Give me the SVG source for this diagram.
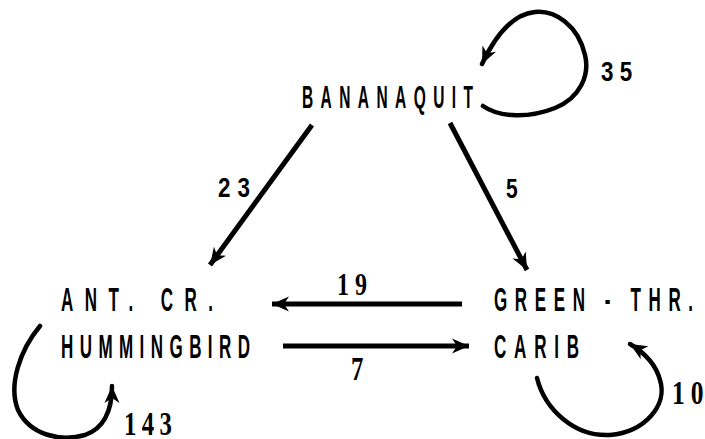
<svg xmlns="http://www.w3.org/2000/svg" width="705" height="439" viewBox="0 0 705 439">
<defs>
<marker id="ah" markerUnits="userSpaceOnUse" markerWidth="22" markerHeight="18" viewBox="-18 -9 22 18" refX="0" refY="0" orient="auto">
<path d="M0,0 L-17,-7.5 L-12,0 L-17,7.5 Z" fill="#000"/>
</marker>
<style>
.lbl{font-family:"Liberation Sans","DejaVu Sans",sans-serif;font-weight:bold;fill:#000}
.num{font-family:"Liberation Sans","DejaVu Sans",sans-serif;font-weight:bold;fill:#000}
.numr{font-family:"Liberation Serif","DejaVu Serif",serif;font-weight:bold;fill:#000}
.e{fill:none;stroke:#000;stroke-width:5;stroke-linecap:butt;marker-end:url(#ah)}
.l{fill:none;stroke:#000;stroke-width:4.5;stroke-linecap:round;marker-end:url(#ah)}
</style>
</defs>
<rect width="705" height="439" fill="#fff"/>
<g id="bananaquit">
<text class="lbl" font-size="31" transform="translate(302,108) scale(0.5,1)" textLength="342" lengthAdjust="spacing">BANANAQUIT</text>
</g>
<g id="hummingbird">
<text class="lbl" font-size="34" transform="translate(61,311) scale(0.5,1)" textLength="304" lengthAdjust="spacing">ANT. CR.</text>
<text class="lbl" font-size="34" transform="translate(61,358) scale(0.5,1)" textLength="378" lengthAdjust="spacing">HUMMINGBIRD</text>
</g>
<g id="carib">
<text class="lbl" font-size="34" transform="translate(494,311) scale(0.5,1)" textLength="398" lengthAdjust="spacing">GREEN - THR.</text>
<text class="lbl" font-size="34" transform="translate(494,358) scale(0.5,1)" textLength="170" lengthAdjust="spacing">CARIB</text>
</g>
<g id="connectors">
<path class="e" d="M312,125 L210,265"/>
<path class="e" d="M450,123 L527,270"/>
<path class="e" d="M462,304 L272,304"/>
<path class="e" d="M283,346 L469,346"/>
<path class="l" d="M483,106 C500,118 530,118 555,108 C580,98 590,75 585,55 C578,25 555,10 535,12 C515,14 498,30 482,64"/>
<path class="l" d="M40,326 C20,350 8,385 18,410 C30,435 60,442 85,435 C105,428 112,410 112,386"/>
<path class="l" d="M537,378 C545,410 575,437 610,435 C645,432 668,405 660,380 C656,365 645,353 630,344"/>
</g>
<g id="labels">
<text class="num" font-size="28" transform="translate(601,81) scale(0.8,1)" textLength="39" lengthAdjust="spacing">35</text>
<text class="num" font-size="28" transform="translate(218,197) scale(0.8,1)" textLength="40" lengthAdjust="spacing">23</text>
<text class="num" font-size="28" transform="translate(506,198) scale(0.75,1)">5</text>
<text class="numr" font-size="32" transform="translate(337,295) scale(0.75,1)" textLength="40" lengthAdjust="spacing">19</text>
<text class="numr" font-size="33" transform="translate(351,380) scale(0.75,1)">7</text>
<text class="numr" font-size="33" transform="translate(124,435) scale(0.75,1)" textLength="64" lengthAdjust="spacing">143</text>
<text class="numr" font-size="34" transform="translate(672,404) scale(0.75,1)" textLength="42" lengthAdjust="spacing">10</text>
</g>
</svg>
